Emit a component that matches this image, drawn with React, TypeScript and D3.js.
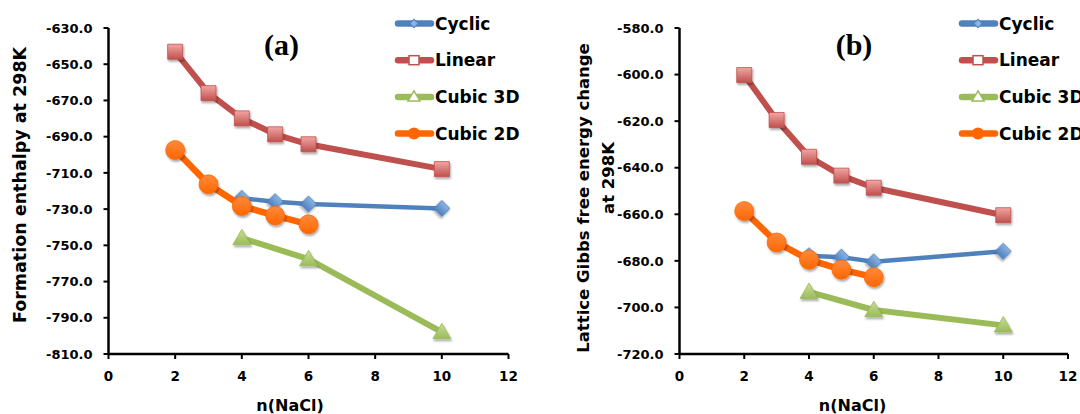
import React from 'react';
import * as d3 from 'd3';

// n(NaCl) values for every series
const nCyclic = [4, 5, 6, 10];
const nLinear = [2, 3, 4, 5, 6, 10];
const nCubic3D = [4, 6, 10];
const nCubic2D = [2, 3, 4, 5, 6];

// (a) formation enthalpy at 298K
const enthalpyCyclic = [-724.0, -725.9, -727.2, -729.6];
const enthalpyLinear = [-643.1, -666.0, -679.9, -688.7, -694.2, -707.9];
const enthalpyCubic3D = [-746.0, -757.6, -797.9];
const enthalpyCubic2D = [-697.4, -716.3, -728.3, -733.6, -738.4];

// (b) lattice Gibbs free energy change at 298K
const gibbsCyclic = [-677.8, -678.4, -680.4, -675.9];
const gibbsLinear = [-600.2, -619.5, -635.3, -643.4, -648.6, -660.4];
const gibbsCubic3D = [-693.3, -701.1, -707.7];
const gibbsCubic2D = [-658.6, -672.1, -679.5, -683.8, -687.0];

const seriesNames = ['Cyclic', 'Linear', 'Cubic 3D', 'Cubic 2D'];
const xTicks = [0, 2, 4, 6, 8, 10, 12];
const enthalpyTicks = [-810, -790, -770, -750, -730, -710, -690, -670, -650, -630];
const gibbsTicks = [-720, -700, -680, -660, -640, -620, -600, -580];

const FONT = '"DejaVu Sans", Verdana, sans-serif';
const SERIF = '"Liberation Serif", "Times New Roman", serif';

type Marker = 'diamond' | 'square' | 'triangle' | 'circle';
const styles: Record<string, { color: string; light: string; width: number; marker: Marker; size: number }> = {
    'Cyclic': {color: '#4F81BD', light: '#8DB3E2', width: 4.5, marker: 'diamond', size: 128},
    'Linear': {color: '#C0504D', light: '#F2A6A4', width: 6, marker: 'square', size: 225},
    'Cubic 3D': {color: '#9BBB59', light: '#C9DD9A', width: 6, marker: 'triangle', size: 140},
    'Cubic 2D': {color: '#FF6600', light: '#FF8A3D', width: 6.5, marker: 'circle', size: 283},
};

const symbolOf = (m: Marker) =>
    m === 'circle' ? d3.symbolCircle : m === 'triangle' ? d3.symbolTriangle : d3.symbolSquare;

interface Series { name: string; xs: number[]; ys: number[] }

interface PanelProps {
    x0: number;
    x1: number;
    domain: [number, number];
    yTicks: number[];
    series: Series[];
    label: string;
    labelX: number;
    legendX: number;
    xTitleX: number;
    yTitle: React.ReactNode;
}

const TOP = 28;
const BOTTOM = 354;

const Panel: React.FC<PanelProps> = ({x0, x1, domain, yTicks, series, label, labelX, legendX, xTitleX, yTitle}) => {
    const x = d3.scaleLinear().domain([0, 12]).range([x0, x1]);
    const y = d3.scaleLinear().domain(domain).range([BOTTOM, TOP]);
    const line = d3.line<[number, number]>().x(d => x(d[0])).y(d => y(d[1]));

    return (
        <g>
            {/* data */}
            {series.map(s => {
                const st = styles[s.name];
                const pts = s.xs.map((v, i) => [v, s.ys[i]] as [number, number]);
                const sym = d3.symbol().type(symbolOf(st.marker)).size(st.size)();
                return (
                    <g key={s.name}>
                        <path d={line(pts) || ''} fill="none" stroke={st.color} strokeWidth={st.width}
                              strokeLinejoin="round"/>
                        {pts.map((p, i) => {
                            let tf = `translate(${x(p[0])},${y(p[1])})`;
                            if (st.marker === 'diamond') tf += ' rotate(45)';
                            if (st.marker === 'triangle') tf += ' translate(0,1.5)';
                            return (
                                <path key={i} d={sym || ''} transform={tf} fill={`url(#g-${st.marker})`}
                                      stroke={st.color} strokeWidth={0.8} filter="url(#shadow)"/>
                            );
                        })}
                    </g>
                );
            })}

            {/* axes */}
            <line x1={x0} x2={x1} y1={BOTTOM} y2={BOTTOM} stroke="#000" strokeWidth={2.5}/>
            <line x1={x0} x2={x0} y1={TOP} y2={BOTTOM} stroke="#000" strokeWidth={2.5}/>
            {xTicks.map(t => (
                <g key={t}>
                    <line x1={x(t)} x2={x(t)} y1={BOTTOM} y2={BOTTOM + 5} stroke="#000" strokeWidth={2}/>
                    <text x={x(t)} y={381} textAnchor="middle" fontFamily={FONT} fontWeight="bold"
                          fontSize={13.5}>{t}</text>
                </g>
            ))}
            {yTicks.map(t => (
                <g key={t}>
                    <line x1={x0 - 5} x2={x0} y1={y(t)} y2={y(t)} stroke="#000" strokeWidth={2}/>
                    <text x={x0 - 16} y={y(t)} dy="0.36em" textAnchor="end" fontFamily={FONT}
                          fontWeight="bold" fontSize={13}>{t.toFixed(1)}</text>
                </g>
            ))}

            <text x={xTitleX} y={411} textAnchor="middle" fontFamily={FONT} fontWeight="bold"
                  fontSize={16}>n(NaCl)</text>
            {yTitle}

            <text x={labelX} y={55} textAnchor="middle" fontFamily={SERIF} fontWeight="bold"
                  fontSize={30}>{label}</text>

            {/* legend */}
            {seriesNames.map((name, i) => {
                const st = styles[name];
                const cy = 23.5 + i * 36.7;
                const cx = legendX + 18;
                let marker: React.ReactNode = null;
                if (st.marker === 'diamond')
                    marker = <rect x={-3} y={-3} width={6} height={6} transform={`translate(${cx},${cy}) rotate(45)`}
                                   fill={st.light} stroke={st.color} strokeWidth={1}/>;
                if (st.marker === 'square')
                    marker = <rect x={cx - 5} y={cy - 4.5} width={10} height={9} fill="#fff" stroke={st.color}
                                   strokeWidth={1.5}/>;
                if (st.marker === 'triangle')
                    marker = <path d={`M${cx},${cy - 6}L${cx + 6},${cy + 4}L${cx - 6},${cy + 4}Z`} fill="#fff"
                                   stroke={st.color} strokeWidth={1.5}/>;
                if (st.marker === 'circle')
                    marker = <circle cx={cx} cy={cy} r={6} fill={st.color}/>;
                return (
                    <g key={name}>
                        <line x1={legendX + 2} x2={legendX + 35} y1={cy} y2={cy} stroke={st.color} strokeWidth={6.5}
                              strokeLinecap="round"/>
                        {marker}
                        <text x={legendX + 39} y={cy} dy="0.36em" fontFamily={FONT} fontWeight="bold"
                              fontSize={17}>{name}</text>
                    </g>
                );
            })}
        </g>
    );
};

const App: React.FC = () => {
    const seriesA: Series[] = [
        {name: 'Cyclic', xs: nCyclic, ys: enthalpyCyclic},
        {name: 'Linear', xs: nLinear, ys: enthalpyLinear},
        {name: 'Cubic 3D', xs: nCubic3D, ys: enthalpyCubic3D},
        {name: 'Cubic 2D', xs: nCubic2D, ys: enthalpyCubic2D},
    ];
    const seriesB: Series[] = [
        {name: 'Cyclic', xs: nCyclic, ys: gibbsCyclic},
        {name: 'Linear', xs: nLinear, ys: gibbsLinear},
        {name: 'Cubic 3D', xs: nCubic3D, ys: gibbsCubic3D},
        {name: 'Cubic 2D', xs: nCubic2D, ys: gibbsCubic2D},
    ];

    return (
        <svg width={1080} height={414} style={{position: 'absolute', left: 0, top: 0, background: '#fff'}}>
            <defs>
                <filter id="shadow" x="-50%" y="-50%" width="200%" height="200%">
                    <feDropShadow dx={1} dy={2} stdDeviation={1.2} floodColor="#000" floodOpacity={0.35}/>
                </filter>
                {seriesNames.map(name => {
                    const st = styles[name];
                    return (
                        <linearGradient key={name} id={`g-${st.marker}`} x1="0" y1="0" x2="0" y2="1">
                            <stop offset="0" stopColor={st.light}/>
                            <stop offset="1" stopColor={st.color}/>
                        </linearGradient>
                    );
                })}
            </defs>
            <Panel x0={108.5} x1={508.5} domain={[-810, -630]} yTicks={enthalpyTicks} series={seriesA}
                   label="(a)" labelX={281.5} legendX={396} xTitleX={290}
                   yTitle={
                       <text transform="translate(20,185) rotate(-90)" dy="0.36em" textAnchor="middle"
                             fontFamily={FONT} fontWeight="bold" fontSize={17.5}>Formation enthalpy at 298K</text>
                   }/>
            <Panel x0={679.5} x1={1068} domain={[-720, -580]} yTicks={gibbsTicks} series={seriesB}
                   label="(b)" labelX={854} legendX={960} xTitleX={852.5}
                   yTitle={
                       <g fontFamily={FONT} fontWeight="bold" fontSize={16.5}>
                           <text transform="translate(583,198) rotate(-90)" dy="0.36em" textAnchor="middle">
                               Lattice Gibbs free energy change
                           </text>
                           <text transform="translate(608,178) rotate(-90)" dy="0.36em" textAnchor="middle">
                               at 298K
                           </text>
                       </g>
                   }/>
        </svg>
    );
};

export default App;
